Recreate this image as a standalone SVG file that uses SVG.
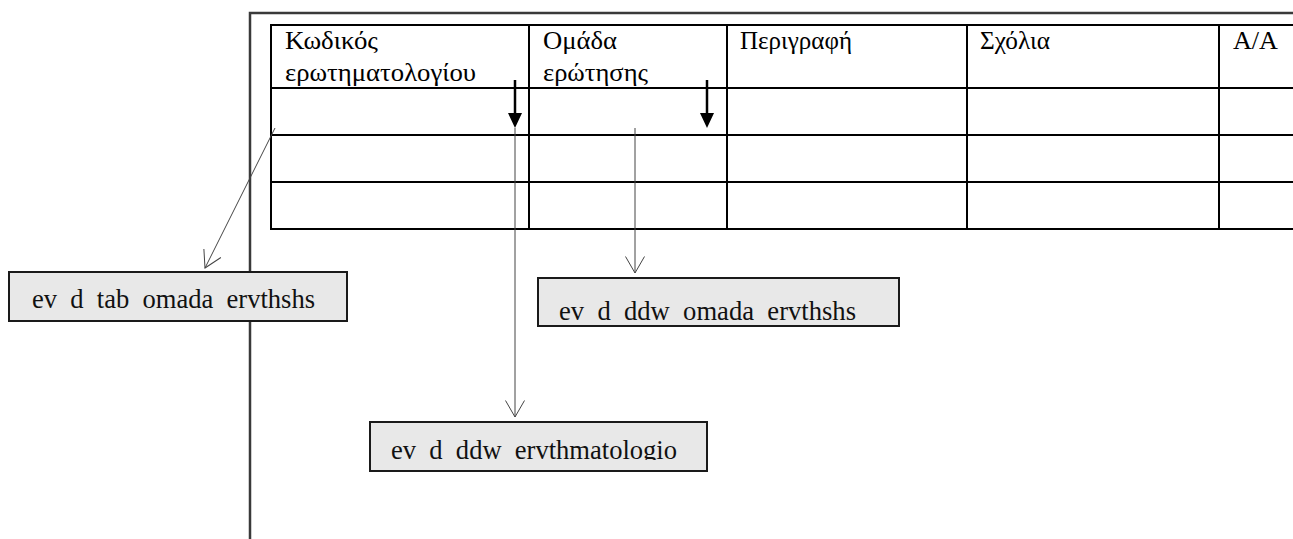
<svg xmlns="http://www.w3.org/2000/svg" width="1293" height="539" viewBox="0 0 1293 539">
<style>
  .frame { fill: none; stroke: #3a3a3a; stroke-width: 2.5; }
  .grid { fill: none; stroke: #000; stroke-width: 2; }
  .hdr { font-family: "Liberation Serif", "Times New Roman", serif; font-size: 25px; fill: #000; }
  .box { fill: #e8e8e8; stroke: #1a1a1a; stroke-width: 2; }
  .lbl { font-family: "Liberation Serif", "Times New Roman", serif; font-size: 28px; fill: #111; white-space: pre; }
  .thin { fill: none; stroke: #444; stroke-width: 1; }
  .thick { fill: none; stroke: #000; stroke-width: 2.5; }
</style>
<defs>
  <marker id="open" markerUnits="userSpaceOnUse" viewBox="0 0 20 22" markerWidth="20" markerHeight="22" refX="18" refY="11" orient="auto">
    <path d="M1.5,1.5 L18,11 L1.5,20.5" fill="none" stroke="#444" stroke-width="1"/>
  </marker>
  <clipPath id="clip3">
    <rect x="370" y="422" width="337" height="38"/>
  </clipPath>
</defs>
<rect width="1293" height="539" fill="#fff"/>

<g id="frame">
  <path class="frame" d="M250,539 L250,13 L1293,13"/>
</g>

<g id="table">
  <path class="grid" d="M1295,25 L271,25 L271,229 L1295,229 M271,88 L1295,88 M271,135 L1295,135 M271,182 L1295,182 M529,25 L529,229 M727,25 L727,229 M967,25 L967,229 M1219,25 L1219,229"/>
  <text class="hdr" x="285" y="49" textLength="93" lengthAdjust="spacingAndGlyphs">Κωδικός</text>
  <text class="hdr" x="285" y="81" textLength="191" lengthAdjust="spacingAndGlyphs">ερωτηματολογίου</text>
  <text class="hdr" x="543" y="49" textLength="74" lengthAdjust="spacingAndGlyphs">Ομάδα</text>
  <text class="hdr" x="543" y="81" textLength="105" lengthAdjust="spacingAndGlyphs">ερώτησης</text>
  <text class="hdr" x="740" y="49" textLength="112" lengthAdjust="spacingAndGlyphs">Περιγραφή</text>
  <text class="hdr" x="980" y="49" textLength="70" lengthAdjust="spacingAndGlyphs">Σχόλια</text>
  <text class="hdr" x="1233" y="49" textLength="45" lengthAdjust="spacingAndGlyphs">A/A</text>
</g>

<g id="node-tab-omada">
  <rect class="box" x="9" y="272" width="338" height="49"/>
  <text class="lbl" x="32" y="308" textLength="283" lengthAdjust="spacingAndGlyphs" xml:space="preserve">ev  d  tab  omada  ervthshs</text>
</g>

<g id="node-ddw-omada">
  <rect class="box" x="538" y="278" width="361" height="48"/>
  <text class="lbl" x="559" y="320" textLength="297" lengthAdjust="spacingAndGlyphs" xml:space="preserve">ev  d  ddw  omada  ervthshs</text>
</g>

<g id="node-ddw-erwthmatologio">
  <rect class="box" x="370" y="422" width="337" height="49"/>
  <text class="lbl" x="391" y="459" textLength="286" lengthAdjust="spacingAndGlyphs" clip-path="url(#clip3)" xml:space="preserve">ev  d  ddw  ervthmatologio</text>
</g>

<g id="connectors">
  <path class="thick" d="M515,80 L515,114"/>
  <polygon points="508,113 522,113 515,128" fill="#000"/>
  <path class="thick" d="M707,80 L707,114"/>
  <polygon points="700,113 714,113 707,128" fill="#000"/>
  <path class="thin" d="M275,128 L205,268" marker-end="url(#open)"/>
  <path class="thin" d="M515,128 L515,417" marker-end="url(#open)"/>
  <path class="thin" d="M635,128 L635,273" marker-end="url(#open)"/>
</g>
</svg>
